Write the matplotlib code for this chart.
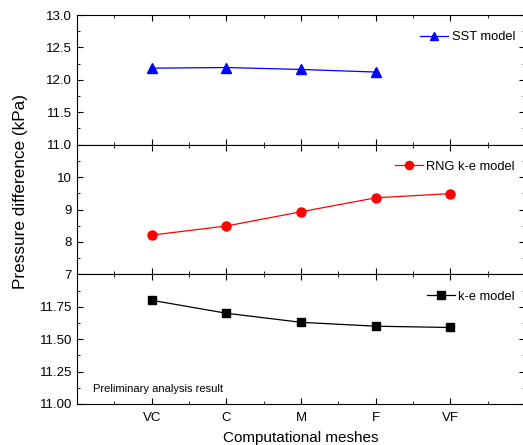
import matplotlib.pyplot as plt
from matplotlib.ticker import MultipleLocator

plt.rcParams['font.family'] = ['Liberation Sans', 'DejaVu Sans']

meshes = ["VC", "C", "M", "F", "VF"]
sst = [12.18, 12.19, 12.16, 12.12]
rng = [8.21, 8.49, 8.93, 9.36, 9.49]
ke = [11.80, 11.70, 11.63, 11.60, 11.59]

x = list(range(1, len(meshes) + 1))

fig = plt.figure(figsize=(5.23, 4.45), dpi=100)
gs = fig.add_gridspec(3, 1, left=77/523, right=525/523, bottom=1-404/445, top=1-15/445, hspace=0)
axs = [fig.add_subplot(gs[i]) for i in range(3)]

# top: SST
axs[0].plot(x[:len(sst)], sst, color='blue', marker='^', markersize=6.5, linewidth=0.9, label='SST model')
axs[0].set_ylim(11.0, 13.0)
axs[0].yaxis.set_major_locator(MultipleLocator(0.5))
axs[0].yaxis.set_minor_locator(MultipleLocator(0.25))
axs[0].yaxis.set_major_formatter(plt.FormatStrFormatter('%.1f'))

# middle: RNG k-e
axs[1].plot(x, rng, color='red', marker='o', markersize=6.5, linewidth=0.9, label='RNG k-e model')
axs[1].set_ylim(7, 11)
axs[1].set_yticks([7, 8, 9, 10])
axs[1].yaxis.set_minor_locator(MultipleLocator(0.5))

# bottom: k-e
axs[2].plot(x, ke, color='black', marker='s', markersize=6, linewidth=0.9, label='k-e model')
axs[2].set_ylim(11.0, 12.0)
axs[2].set_yticks([11.0, 11.25, 11.5, 11.75])
axs[2].yaxis.set_major_formatter(plt.FormatStrFormatter('%.2f'))
axs[2].yaxis.set_minor_locator(MultipleLocator(0.125))
axs[2].text(0.035, 0.09, 'Preliminary analysis result', transform=axs[2].transAxes, fontsize=8)

for ax in axs:
    ax.set_xlim(0, 6)
    ax.set_xticks(x)
    ax.xaxis.set_minor_locator(MultipleLocator(0.5))
    ax.tick_params(which='both', direction='in', top=True, right=True, labelsize=9.5)
    ax.tick_params(which='major', length=4.5)
    ax.tick_params(which='minor', length=2.5)
    ax.tick_params(axis='x', pad=5.5)
    ax.legend(loc='upper right', bbox_to_anchor=(0.989, 0.915), frameon=False, fontsize=9.3,
              handlelength=2.2, borderaxespad=0, handletextpad=0.25, markerscale=0.9)
    if ax is not axs[2]:
        ax.tick_params(labelbottom=False)

axs[2].set_xticklabels(meshes)
axs[2].set_xlabel('Computational meshes', fontsize=11, labelpad=5)
fig.text(0.04, 1 - 191.5/445, 'Pressure difference (kPa)', rotation=90,
         va='center', ha='center', fontsize=12.3)

plt.savefig('out.png', dpi=100)
